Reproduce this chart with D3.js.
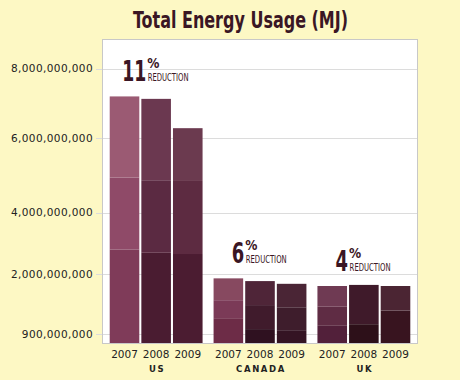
<!DOCTYPE html>
<html><head><meta charset="utf-8">
<script src="https://cdn.jsdelivr.net/npm/d3@7"></script>
<style>
html,body{margin:0;padding:0;background:#fdf8c4;}
svg{display:block;}
</style></head>
<body><svg id="chart" width="460" height="380"></svg>
<script>
// ---- data (MJ) ----
const countries = ["US", "CANADA", "UK"];
const years = ["2007", "2008", "2009"];
// cumulative boundaries of the three shaded layers in each bar
const layer1 = {US: [2.80e9, 2.69e9, 2.65e9], CANADA: [1.19e9, 0.99e9, 0.97e9], UK: [1.05e9, 1.08e9, 1.33e9]};
const layer2 = {US: [4.94e9, 4.87e9, 4.85e9], CANADA: [1.52e9, 1.43e9, 1.39e9], UK: [1.40e9, 1.08e9, 1.33e9]};
const totals = {US: [7.20e9, 7.13e9, 6.29e9], CANADA: [1.92e9, 1.87e9, 1.82e9], UK: [1.78e9, 1.80e9, 1.78e9]};
const reductions = ["11", "6", "4"];
const tickValues = [9e8, 2e9, 4e9, 6e9, 8e9];
const axisBreaks = [7.35e8, 9e8, 2e9, 4e9, 6e9, 8e9, 8.8e9];

// ---- styles ----
const barColors = {
  US: [["#7f3b59", "#8f4a68", "#9b5a73"], ["#4a1c31", "#5b2a42", "#6b3850"], ["#4b1c31", "#5d2b41", "#6b3a4f"]],
  CANADA: [["#6d2c47", "#7b3a57", "#874960"], ["#2f1120", "#401b2c", "#4f2538"], ["#341423", "#3e1d2c", "#4a2535"]],
  UK: [["#52203a", "#5f2c44", "#6f3a53"], ["#2d1019", "#3f1a2a", "#3f1a2a"], ["#38141f", "#4b2533", "#4b2533"]]
};
const ink = "#3a1624";
const cond = "'DejaVu Sans Condensed','DejaVu Sans',sans-serif";

const svg = d3.select("#chart");
svg.append("rect").attr("width", 460).attr("height", 380).attr("fill", "#fdf8c4");

const plot = {left: 103, right: 417, top: 40, bottom: 343};

// title
svg.append("text").attr("x", 240.5).attr("y", 28)
  .attr("text-anchor", "middle")
  .attr("font-family", cond).attr("font-stretch", "condensed")
  .attr("font-weight", "bold").attr("font-size", 23)
  .attr("textLength", 215).attr("lengthAdjust", "spacingAndGlyphs")
  .attr("fill", ink).text("Total Energy Usage (MJ)");

// frame fill
svg.append("rect").attr("x", plot.left).attr("y", plot.top)
  .attr("width", plot.right - plot.left).attr("height", plot.bottom - plot.top)
  .attr("fill", "#ffffff");

const y = d3.scaleLinear().domain(axisBreaks)
  .range([343, 334, 274, 212.5, 138.3, 68.5, 40]);

const x0 = d3.scaleBand().domain(countries).range([104, 416]).paddingInner(0.106).paddingOuter(0.055);
const x1 = d3.scaleBand().domain(years).range([0, x0.bandwidth()]).paddingInner(0.065).paddingOuter(0);

// axis with gridlines
const axis = d3.axisLeft(y).tickValues(tickValues).tickFormat(d3.format(","))
  .tickSize(plot.right - 96).tickPadding(3);
const ag = svg.append("g").attr("transform", `translate(${plot.right},0)`).call(axis);
ag.select(".domain").remove();
ag.selectAll(".tick line").attr("stroke", "#dcdcdc").attr("shape-rendering", "crispEdges");
ag.selectAll(".tick text").attr("font-family", "'DejaVu Sans',Verdana,sans-serif")
  .attr("font-size", 10.5).attr("fill", "#222").attr("letter-spacing", 0.4);

// bars
countries.forEach((c, ci) => {
  const g = svg.append("g").attr("transform", `translate(${x0(c)},0)`);
  years.forEach((yr, j) => {
    const bounds = [axisBreaks[0], layer1[c][j], layer2[c][j], totals[c][j]];
    for (let k = 0; k < 3; k++) {
      const y0v = bounds[k], y1v = bounds[k + 1];
      if (y1v <= y0v) continue;
      g.append("rect")
        .attr("x", x1(yr)).attr("width", x1.bandwidth())
        .attr("y", y(y1v)).attr("height", y(y0v) - y(y1v))
        .attr("fill", barColors[c][j][k]);
    }
    g.append("text").attr("x", x1(yr) + x1.bandwidth() / 2).attr("y", 358)
      .attr("text-anchor", "middle")
      .attr("font-family", "'DejaVu Sans',Verdana,sans-serif").attr("font-size", 10.5)
      .attr("fill", "#222").text(yr);
  });
  g.append("text").attr("x", x0.bandwidth() / 2 + 1).attr("y", 372)
    .attr("text-anchor", "middle")
    .attr("font-family", "'DejaVu Sans',Verdana,sans-serif").attr("font-size", 8.5)
    .attr("font-weight", "bold").attr("letter-spacing", 1.6)
    .attr("fill", "#222").text(c);

  // reduction annotation (horizontally compressed to mimic a condensed face)
  const base = y(totals[c][0]) - 15;
  const a = svg.append("g");
  const num = a.append("text")
    .attr("font-family", cond).attr("font-stretch", "condensed")
    .attr("font-weight", "bold").attr("font-size", 29).attr("fill", ink)
    .text(reductions[ci]);
  const pct = a.append("text")
    .attr("font-family", cond).attr("font-stretch", "condensed")
    .attr("font-weight", "bold").attr("font-size", 13.5).attr("fill", ink).text("%");
  const red = a.append("text")
    .attr("font-family", cond).attr("font-stretch", "condensed")
    .attr("font-size", 10.3).attr("fill", ink).text("REDUCTION");
  const nNat = num.node().getComputedTextLength();
  const rNat = red.node().getComputedTextLength();
  const pNat = pct.node().getComputedTextLength();
  const nw = 11.5 * reductions[ci].length + 1;
  const rw = 41;
  const pw = Math.min(pNat, 14);
  const nsx = nw / nNat, rsx = rw / rNat, psx = pw / pNat;
  const start = x0(c) + x0.bandwidth() / 2 - 1 - (nw + 1 + rw) / 2;
  num.attr("transform", `translate(${start},${base}) scale(${nsx},1)`);
  pct.attr("transform", `translate(${start + nw + 1},${base - 13}) scale(${psx},1)`);
  red.attr("transform", `translate(${start + nw + 1.5},${base}) scale(${rsx},1)`);
});

// frame border
svg.append("rect").attr("x", plot.left - 0.5).attr("y", plot.top - 0.5)
  .attr("width", plot.right - plot.left + 1).attr("height", plot.bottom - plot.top + 1)
  .attr("fill", "none").attr("stroke", "#c8c8c8");
</script></body></html>
